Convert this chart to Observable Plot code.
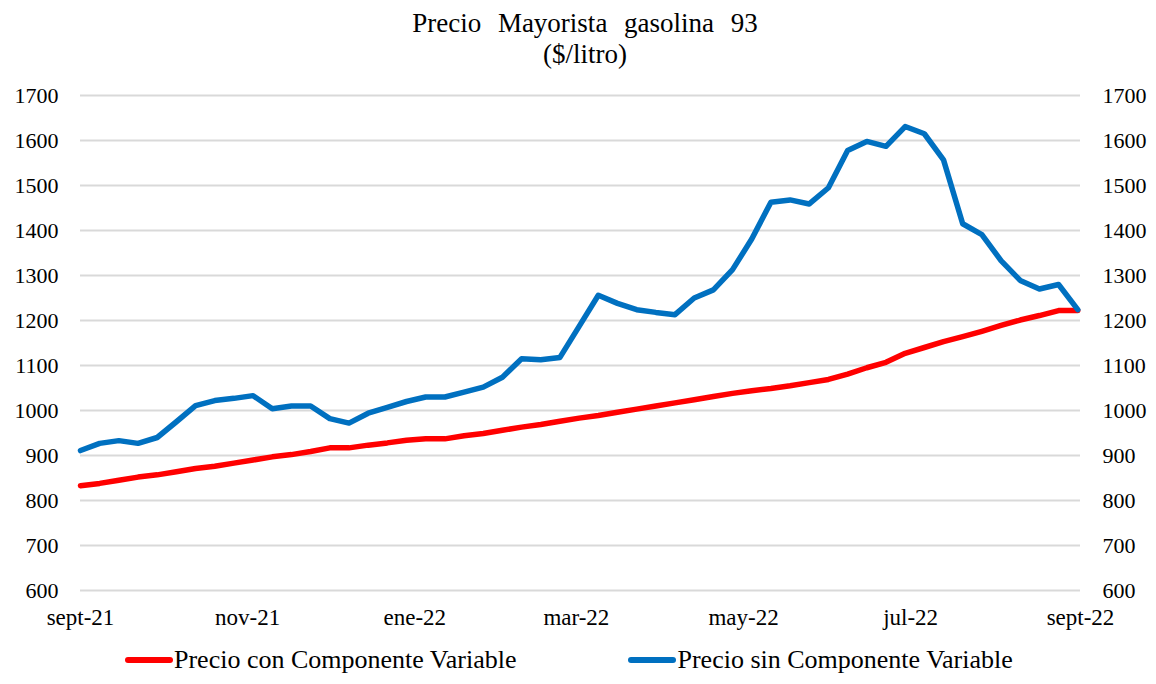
<!DOCTYPE html>
<html>
<head>
<meta charset="utf-8">
<script src="https://cdn.jsdelivr.net/npm/d3@7"></script>
<script src="https://cdn.jsdelivr.net/npm/@observablehq/plot@0.6"></script>
<style>
  html, body { margin: 0; padding: 0; background: #fff; }
  body { font-family: "Liberation Serif", serif; color: #000; }
  #wrap { width: 1156px; height: 684px; }
  #title { box-sizing: border-box; height: 80px; padding-top: 8px; padding-left: 14px; text-align: center; font-size: 27px; line-height: 31px; word-spacing: 10px; }
  #chart { height: 555px; }
  #legend { display: flex; align-items: center; padding-left: 125px; height: 49px; font-size: 26px; }
  .item { display: flex; align-items: center; }
  .item + .item { margin-left: 112px; }
  .sw { display: inline-block; width: 48px; height: 6px; border-radius: 3px; margin-right: 1px; }
</style>
</head>
<body>
<div id="wrap">
<div id="title">Precio Mayorista gasolina 93<br>($/litro)</div>
<div id="chart"></div>
<div id="legend"></div>
</div>
<script>
// ---- data ----
const fechaInicio = "2021-09-01"; // weekly observations
const seriesNames = ["Precio con Componente Variable", "Precio sin Componente Variable"];
const seriesColors = ["#FF0000", "#0070C0"];
const conComponente = [
  833, 838, 845, 852, 857, 864, 871, 876, 883, 890,
  897, 902, 909, 917, 917, 923, 928, 934, 937, 937,
  944, 949, 956, 963, 969, 976, 983, 989, 996, 1003,
  1010, 1017, 1024, 1031, 1038, 1044, 1049, 1055, 1062, 1069,
  1081, 1095, 1107, 1127, 1140, 1153, 1164, 1176, 1189, 1201,
  1211, 1222, 1222
];
const sinComponente = [
  911, 927, 933, 927, 940, 975, 1011, 1022, 1027, 1033,
  1004, 1010, 1010, 982, 972, 994, 1007, 1020, 1030, 1030,
  1041, 1052, 1074, 1115, 1113, 1118, 1187, 1256, 1238, 1224,
  1218, 1213, 1250, 1268, 1313, 1381, 1463, 1468, 1459, 1495,
  1578, 1598, 1587, 1631, 1615, 1557, 1415, 1391, 1333, 1289,
  1270, 1280, 1224
];
const xTickDates = ["2021-09-01", "2021-11-01", "2022-01-01", "2022-03-01", "2022-05-01", "2022-07-01", "2022-09-01"];
const xTickLabels = ["sept-21", "nov-21", "ene-22", "mar-22", "may-22", "jul-22", "sept-22"];
const yTicks = [600, 700, 800, 900, 1000, 1100, 1200, 1300, 1400, 1500, 1600, 1700];

// ---- build table ----
const start = new Date(fechaInicio + "T00:00:00Z");
const rows = [];
conComponente.forEach((v, i) => rows.push({date: d3.utcDay.offset(start, 7 * i), value: v, serie: seriesNames[0]}));
sinComponente.forEach((v, i) => rows.push({date: d3.utcDay.offset(start, 7 * i), value: v, serie: seriesNames[1]}));

const tickDates = xTickDates.map(s => new Date(s + "T00:00:00Z"));
const labelByTime = new Map(tickDates.map((d, i) => [+d, xTickLabels[i]]));

const font = "'Liberation Serif', serif";
const chart = Plot.plot({
  width: 1156,
  height: 555,
  marginTop: 15,
  marginBottom: 45,
  marginLeft: 80,
  marginRight: 76,
  style: {fontFamily: font, fontSize: "22px", color: "#000", background: "#fff", overflow: "visible"},
  x: {type: "utc", domain: [tickDates[0], tickDates[tickDates.length - 1]]},
  y: {domain: [600, 1700]},
  marks: [
    Plot.ruleY(yTicks, {stroke: "#d9d9d9", strokeWidth: 2}),
    Plot.axisY({anchor: "left", ticks: yTicks, tickFormat: d3.format("d"), tickSize: 0, tickPadding: 22, fontSize: 22, label: null}),
    Plot.axisY({anchor: "right", ticks: yTicks, tickFormat: d3.format("d"), tickSize: 0, tickPadding: 22, fontSize: 22, label: null}),
    Plot.axisX({ticks: tickDates, tickFormat: d => labelByTime.get(+d), tickSize: 0, tickPadding: 18, fontSize: 23, label: null}),
    Plot.line(rows.filter(r => r.serie === seriesNames[0]), {x: "date", y: "value", stroke: seriesColors[0], strokeWidth: 5.5, strokeLinejoin: "round", strokeLinecap: "round"}),
    Plot.line(rows.filter(r => r.serie === seriesNames[1]), {x: "date", y: "value", stroke: seriesColors[1], strokeWidth: 5.5, strokeLinejoin: "round", strokeLinecap: "round"})
  ]
});
document.getElementById("chart").appendChild(chart);

const legend = document.getElementById("legend");
seriesNames.forEach((name, i) => {
  const item = document.createElement("div");
  item.className = "item";
  const sw = document.createElement("span");
  sw.className = "sw";
  sw.style.background = seriesColors[i];
  const t = document.createElement("span");
  t.textContent = name;
  item.appendChild(sw);
  item.appendChild(t);
  legend.appendChild(item);
});

// keep the serif face applied on every text-bearing element
function applyFont() {
  document.querySelectorAll("#wrap, #wrap div, #wrap span, #wrap svg, #wrap g, #wrap text").forEach(el => {
    if (el.style.getPropertyValue("font-family") !== font) el.style.setProperty("font-family", font, "important");
  });
}
applyFont();
new MutationObserver(applyFont).observe(document.documentElement, {subtree: true, attributes: true, childList: true, attributeFilter: ["style", "class"]});
setInterval(applyFont, 100);
</script>
</body>
</html>
